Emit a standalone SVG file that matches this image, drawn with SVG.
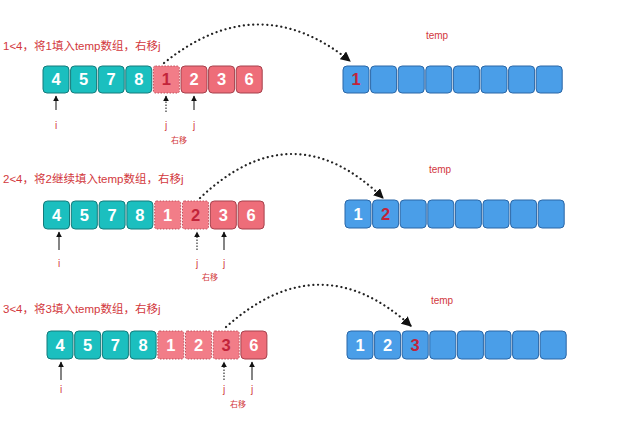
<svg xmlns="http://www.w3.org/2000/svg" width="617" height="421" viewBox="0 0 617 421">
<defs>
<style>
.t{font-family:"Liberation Sans","Noto Sans CJK SC",sans-serif;font-size:11.5px;fill:#d2383d}
.tp{font-family:"Liberation Sans",sans-serif;font-size:10px;fill:#d2383d;text-anchor:middle}
.lb{font-family:"Liberation Sans",sans-serif;font-size:10px;fill:#d2383d;text-anchor:middle}
.ym{font-family:"Noto Sans CJK SC",sans-serif;font-size:8px;fill:#d2383d;text-anchor:middle}
.n{font-family:"Liberation Sans",sans-serif;font-size:16.5px;font-weight:bold;fill:#fff;text-anchor:middle}
.nr{fill:#c2243a}
.g{fill:#1bbfbf;stroke:#147a7a;stroke-width:1}
.r{fill:#ee6d79;stroke:#a5414c;stroke-width:1}
.rd{fill:#f27d88;stroke:#c0505c;stroke-width:1;stroke-dasharray:1.5 1.5}
.b{fill:#4a9ee8;stroke:#2a66a6;stroke-width:1}
.arc{fill:none;stroke:#222;stroke-width:2.2;stroke-dasharray:0.1 4.6;stroke-linecap:round}
.up{stroke:#333;stroke-width:1.2;fill:none}
.upd{stroke:#333;stroke-width:1.2;fill:none;stroke-dasharray:1.5 1.5}
</style>
<marker id="ah" viewBox="0 0 10 10" refX="9" refY="5" markerWidth="10" markerHeight="10" markerUnits="userSpaceOnUse" orient="auto"><path d="M0,0 L10,5 L0,10 z" fill="#111"/></marker>
<marker id="au" viewBox="0 0 10 10" refX="9" refY="5" markerWidth="6" markerHeight="6" markerUnits="userSpaceOnUse" orient="auto"><path d="M0,0 L10,5 L0,10 z" fill="#111"/></marker>
</defs>
<rect width="617" height="421" fill="#fff"/>

<!-- Step 1 -->
<g id="title1"><text class="t" x="3" y="50">1&lt;4，将1填入temp数组，右移j</text></g>
<g id="src1" transform="translate(43,66)">
<rect class="g" x="0" y="0" width="26" height="27" rx="4"/><text class="n" x="13" y="19">4</text>
<rect class="g" x="27.6" y="0" width="26" height="27" rx="4"/><text class="n" x="40.6" y="19">5</text>
<rect class="g" x="55.2" y="0" width="26" height="27" rx="4"/><text class="n" x="68.2" y="19">7</text>
<rect class="g" x="82.8" y="0" width="26" height="27" rx="4"/><text class="n" x="95.8" y="19">8</text>
<rect class="rd" x="110.4" y="0" width="26" height="27" rx="2"/><text class="n nr" x="123.4" y="19">1</text>
<rect class="r" x="138" y="0" width="26" height="27" rx="4"/><text class="n" x="151" y="19">2</text>
<rect class="r" x="165.6" y="0" width="26" height="27" rx="4"/><text class="n" x="178.6" y="19">3</text>
<rect class="r" x="193.2" y="0" width="26" height="27" rx="4"/><text class="n" x="206.2" y="19">6</text>
</g>
<g id="temp1" transform="translate(343,66)">
<text class="tp" x="94" y="-27">temp</text>
<rect class="b" x="0" y="0" width="26" height="27" rx="4"/><text class="n nr" x="13" y="19">1</text>
<rect class="b" x="27.6" y="0" width="26" height="27" rx="4"/>
<rect class="b" x="55.2" y="0" width="26" height="27" rx="4"/>
<rect class="b" x="82.8" y="0" width="26" height="27" rx="4"/>
<rect class="b" x="110.4" y="0" width="26" height="27" rx="4"/>
<rect class="b" x="138" y="0" width="26" height="27" rx="4"/>
<rect class="b" x="165.6" y="0" width="26" height="27" rx="4"/>
<rect class="b" x="193.2" y="0" width="26" height="27" rx="4"/>
</g>
<g id="labels1">
<text class="lb" x="56" y="129">i</text>
<text class="lb" x="166" y="129">j</text>
<text class="lb" x="194" y="129">j</text>
<text class="ym" x="179" y="143">右移</text>
</g>

<!-- Step 2 -->
<g id="title2"><text class="t" x="3" y="183">2&lt;4，将2继续填入temp数组，右移j</text></g>
<g id="src2" transform="translate(43.5,201)">
<rect class="g" x="0" y="0" width="26" height="28" rx="4"/><text class="n" x="13" y="19.5">4</text>
<rect class="g" x="27.8" y="0" width="26" height="28" rx="4"/><text class="n" x="40.8" y="19.5">5</text>
<rect class="g" x="55.6" y="0" width="26" height="28" rx="4"/><text class="n" x="68.6" y="19.5">7</text>
<rect class="g" x="83.4" y="0" width="26" height="28" rx="4"/><text class="n" x="96.4" y="19.5">8</text>
<rect class="rd" x="111.2" y="0" width="26" height="28" rx="2"/><text class="n" x="124.2" y="19.5">1</text>
<rect class="rd" x="139" y="0" width="26" height="28" rx="2"/><text class="n nr" x="152" y="19.5">2</text>
<rect class="r" x="166.8" y="0" width="26" height="28" rx="4"/><text class="n" x="179.8" y="19.5">3</text>
<rect class="r" x="194.6" y="0" width="26" height="28" rx="4"/><text class="n" x="207.6" y="19.5">6</text>
</g>
<g id="temp2" transform="translate(345,200)">
<text class="tp" x="95" y="-27">temp</text>
<rect class="b" x="0" y="0" width="26" height="28" rx="4"/><text class="n" x="13" y="19.5">1</text>
<rect class="b" x="27.6" y="0" width="26" height="28" rx="4"/><text class="n nr" x="40.6" y="19.5">2</text>
<rect class="b" x="55.2" y="0" width="26" height="28" rx="4"/>
<rect class="b" x="82.8" y="0" width="26" height="28" rx="4"/>
<rect class="b" x="110.4" y="0" width="26" height="28" rx="4"/>
<rect class="b" x="138" y="0" width="26" height="28" rx="4"/>
<rect class="b" x="165.6" y="0" width="26" height="28" rx="4"/>
<rect class="b" x="193.2" y="0" width="26" height="28" rx="4"/>
</g>
<g id="labels2">
<text class="lb" x="59" y="267">i</text>
<text class="lb" x="197" y="267">j</text>
<text class="lb" x="224" y="267">j</text>
<text class="ym" x="210" y="280">右移</text>
</g>

<!-- Step 3 -->
<g id="title3"><text class="t" x="3" y="313">3&lt;4，将3填入temp数组，右移j</text></g>
<g id="src3" transform="translate(47,331)">
<rect class="g" x="0" y="0" width="26" height="28" rx="4"/><text class="n" x="13" y="19.5">4</text>
<rect class="g" x="27.7" y="0" width="26" height="28" rx="4"/><text class="n" x="40.7" y="19.5">5</text>
<rect class="g" x="55.4" y="0" width="26" height="28" rx="4"/><text class="n" x="68.4" y="19.5">7</text>
<rect class="g" x="83.1" y="0" width="26" height="28" rx="4"/><text class="n" x="96.1" y="19.5">8</text>
<rect class="rd" x="110.8" y="0" width="26" height="28" rx="2"/><text class="n" x="123.8" y="19.5">1</text>
<rect class="rd" x="138.5" y="0" width="26" height="28" rx="2"/><text class="n" x="151.5" y="19.5">2</text>
<rect class="rd" x="166.2" y="0" width="26" height="28" rx="2"/><text class="n nr" x="179.2" y="19.5">3</text>
<rect class="r" x="193.9" y="0" width="26" height="28" rx="4"/><text class="n" x="206.9" y="19.5">6</text>
</g>
<g id="temp3" transform="translate(347,331)">
<text class="tp" x="95" y="-27">temp</text>
<rect class="b" x="0" y="0" width="26" height="28" rx="4"/><text class="n" x="13" y="19.5">1</text>
<rect class="b" x="27.6" y="0" width="26" height="28" rx="4"/><text class="n" x="40.6" y="19.5">2</text>
<rect class="b" x="55.2" y="0" width="26" height="28" rx="4"/><text class="n nr" x="68.2" y="19.5">3</text>
<rect class="b" x="82.8" y="0" width="26" height="28" rx="4"/>
<rect class="b" x="110.4" y="0" width="26" height="28" rx="4"/>
<rect class="b" x="138" y="0" width="26" height="28" rx="4"/>
<rect class="b" x="165.6" y="0" width="26" height="28" rx="4"/>
<rect class="b" x="193.2" y="0" width="26" height="28" rx="4"/>
</g>
<g id="labels3">
<text class="lb" x="61" y="393">i</text>
<text class="lb" x="224" y="393">j</text>
<text class="lb" x="252" y="393">j</text>
<text class="ym" x="238" y="407">右移</text>
</g>

<g id="connectors">
<path class="arc" d="M164,63 Q258,-13 350,61" marker-end="url(#ah)"/>
<path class="arc" d="M200,198 Q293,110 383,198" marker-end="url(#ah)"/>
<path class="arc" d="M226,327 Q320,243 411,326" marker-end="url(#ah)"/>
<path class="up" d="M56,110 L56,96" marker-end="url(#au)"/>
<path class="upd" d="M166,112 L166,96" marker-end="url(#au)"/>
<path class="up" d="M194,110 L194,96" marker-end="url(#au)"/>
<path class="up" d="M59,250 L59,232" marker-end="url(#au)"/>
<path class="upd" d="M197,250 L197,232" marker-end="url(#au)"/>
<path class="up" d="M224,250 L224,232" marker-end="url(#au)"/>
<path class="up" d="M61,380 L61,362" marker-end="url(#au)"/>
<path class="upd" d="M224,380 L224,362" marker-end="url(#au)"/>
<path class="up" d="M252,380 L252,362" marker-end="url(#au)"/>
</g>
</svg>
